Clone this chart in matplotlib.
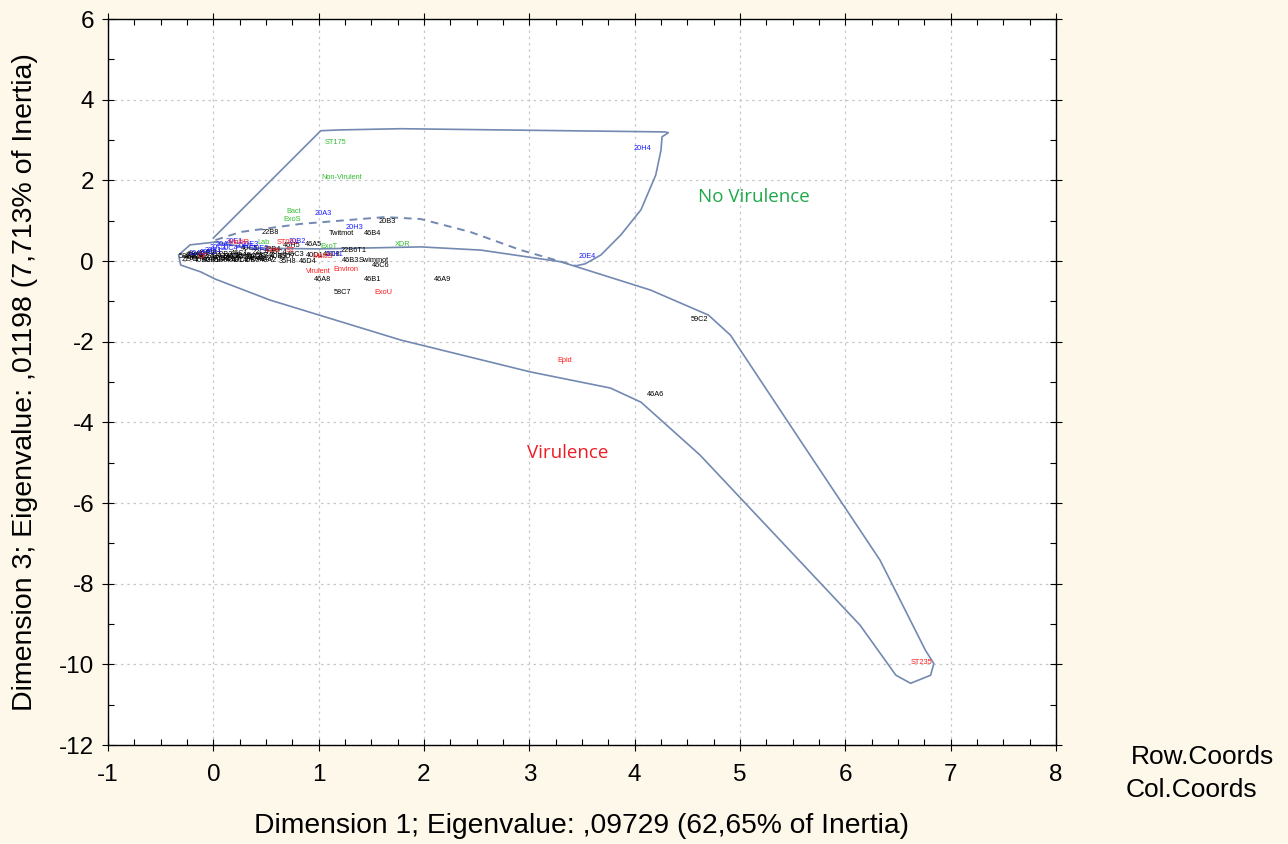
import matplotlib
matplotlib.use("Agg")
import matplotlib.pyplot as plt
from matplotlib.ticker import MultipleLocator

plt.rcParams["axes.unicode_minus"] = False

# ---------------- data ----------------
x_ticks = [-1, 0, 1, 2, 3, 4, 5, 6, 7, 8]
y_ticks = [-12, -10, -8, -6, -4, -2, 0, 2, 4, 6]

# isolates (black)
black_labels = ["22B8", "20B3", "Twitmot", "46B4", "46A5", "22B6T1", "46A9", "46B1",
                "58C7", "46A8", "46C6", "46B3", "Swimmot", "59C2", "46A6", "35H8", "46D4",
                "46C8", "40A2", "46B5", "46B2", "46B7", "40A1", "22A5", "40C3", "46A3",
                "40B6", "22B3", "46C1", "22C4", "40B9", "46C3", "40D1", "58A2", "46A1",
                "40C5", "22B4", "46H5", "40B2", "46D2", "22C1", "40A7", "58B1", "46C4",
                "22A1", "22A3", "40B1", "40B4", "46D1", "58A5", "58C1", "22C6", "40D3",
                "46B6", "22A7", "40C8", "58B4", "46D7"]
black_x = [0.54, 1.65, 1.22, 1.51, 0.95, 1.33, 2.18, 1.51,
           1.23, 1.04, 1.59, 1.30, 1.52, 4.62, 4.20, 0.70, 0.90,
           1.12, 0.52, 0.36, -0.20, -0.05, 0.05, 0.17, 0.30, 0.42,
           0.50, 0.10, 0.25, 0.45, 0.62, 0.78, 0.96, -0.16, 0.00,
           0.34, 0.56, 0.74, -0.10, 0.20, 0.12, 0.38, -0.25, 0.62,
           -0.22, -0.12, -0.02, 0.08, 0.20, 0.28, 0.40, -0.18, -0.06,
           0.06, 0.16, 0.26, 0.48, 0.70]
black_y = [0.70, 0.97, 0.68, 0.67, 0.42, 0.27, -0.45, -0.47,
           -0.77, -0.45, -0.12, 0.00, 0.00, -1.46, -3.30, -0.02, -0.02,
           0.15, 0.00, 0.02, 0.08, 0.05, 0.10, 0.05, 0.08, 0.03,
           0.06, 0.16, 0.18, 0.20, 0.12, 0.15, 0.13, 0.15, 0.20,
           0.30, 0.28, 0.38, 0.00, 0.10, 0.04, 0.12, 0.10, 0.22,
           0.04, 0.12, 0.02, 0.06, 0.00, 0.14, 0.08, 0.14, 0.18,
           0.00, 0.12, 0.00, 0.14, 0.10]

# blue labels
blue_labels = ["20A3", "20H3", "20H4", "20E4", "20B1", "20A1", "20C4", "20H2",
               "20E2", "20A2", "20E1", "20H1", "20C1", "20B2", "20C3", "20E3"]
blue_x = [1.04, 1.34, 4.07, 3.55, 0.00, -0.15, 0.15, 0.30,
          0.45, 0.10, 0.20, 1.15, 0.05, 0.80, -0.05, 0.35]
blue_y = [1.17, 0.82, 2.78, 0.12, 0.25, 0.18, 0.30, 0.35,
          0.30, 0.40, 0.48, 0.15, 0.33, 0.48, 0.22, 0.40]

# red labels
red_labels = ["ExoU", "Virulent", "Environ", "Epid", "ST235", "CF", "MultiR",
              "ST001", "Cefe", "ST", "MultiS"]
red_x = [1.61, 1.00, 1.26, 3.34, 6.72, -0.10, 0.24, 0.70, 0.57, 0.73, 1.04]
red_y = [-0.77, -0.27, -0.20, -2.46, -9.95, 0.10, 0.47, 0.47, 0.25, 0.25, 0.10]

# green labels
green_labels = ["ST175", "Non-Virulent", "Bact", "ExoS", "XDR", "ExoT", "Lab"]
green_x = [1.16, 1.22, 0.76, 0.75, 1.80, 1.10, 0.48]
green_y = [2.95, 2.06, 1.22, 1.04, 0.40, 0.35, 0.45]

# hull outlines (data coordinates)
vir_hull_x = [0.02, -0.22, -0.33, -0.31, -0.12, 0.02, 0.54, 1.78, 3.01, 3.77, 4.06,
              4.62, 5.38, 6.14, 6.48, 6.62, 6.81, 6.84, 6.76, 6.33, 5.57, 4.91, 4.70,
              4.15, 3.30, 2.54, 1.97, 1.02, 0.35, 0.02]
vir_hull_y = [0.47, 0.40, 0.15, -0.10, -0.27, -0.45, -0.97, -1.96, -2.75, -3.15, -3.50,
              -4.81, -6.92, -9.03, -10.27, -10.47, -10.27, -9.98, -9.65, -7.42, -4.44, -1.84, -1.34,
              -0.72, -0.02, 0.27, 0.35, 0.30, 0.32, 0.47]

nov_solid_x = [0.00, 1.02, 1.20, 1.78, 4.29, 4.32, 4.26, 4.25, 4.20, 4.06, 3.87, 3.68, 3.53, 3.44]
nov_solid_y = [0.57, 3.23, 3.25, 3.28, 3.20, 3.18, 3.08, 2.75, 2.13, 1.27, 0.65, 0.15, -0.07, -0.12]

nov_dash_x = [0.02, 0.26, 0.83, 1.63, 1.97, 2.44, 2.92, 3.44]
nov_dash_y = [0.52, 0.72, 0.92, 1.09, 1.04, 0.72, 0.27, -0.12]

# ---------------- figure ----------------
BG = "#FEF8EB"
FONT = "Liberation Sans"
fig = plt.figure(figsize=(12.88, 8.44), dpi=100, facecolor=BG)
ax = fig.add_axes([108 / 1288, 1 - 745 / 844, (1056 - 108) / 1288, (745 - 19) / 844])
ax.set_facecolor("white")

hull_color = "#7389b1"
ax.plot(vir_hull_x, vir_hull_y, color=hull_color, lw=1.2, zorder=2)
ax.plot(nov_solid_x, nov_solid_y, color=hull_color, lw=1.2, zorder=2)
ax.plot(nov_dash_x, nov_dash_y, color=hull_color, lw=1.4, ls=(0, (4, 3)), zorder=2)

lab_font = dict(fontsize=5.3, family=FONT, ha="center", va="center", zorder=3)
for labs, xs, ys, col in [(black_labels, black_x, black_y, "black"),
                          (blue_labels, blue_x, blue_y, "#1a1aff"),
                          (red_labels, red_x, red_y, "#ff1a1a"),
                          (green_labels, green_x, green_y, "#33bb33")]:
    for t, x, y in zip(labs, xs, ys):
        ax.text(x, y, t, color=col, **lab_font)

ax.text(5.13, 1.59, "No Virulence", color="#1fa84a", fontsize=13.5, family="Open Sans",
        ha="center", va="center")
ax.text(3.36, -4.76, "Virulence", color="#ee1c24", fontsize=13.5, family="Open Sans",
        ha="center", va="center")

ax.set_xlim(-1, 8)
ax.set_ylim(-12, 6)
ax.set_xticks(x_ticks)
ax.set_yticks(y_ticks)
ax.xaxis.set_minor_locator(MultipleLocator(0.25))
ax.yaxis.set_minor_locator(MultipleLocator(1))
ax.grid(True, which="major", color="#c8c8c8", ls=(0, (2, 3)), lw=0.9)
ax.set_axisbelow(True)

for sp in ax.spines.values():
    sp.set_color("black")
    sp.set_linewidth(1.0)

ax.tick_params(which="major", direction="inout", length=8, width=0.8,
               top=True, right=True, labelsize=17.5)
ax.tick_params(axis="x", which="major", pad=10)
ax.tick_params(axis="y", which="major", pad=6)
ax.tick_params(which="minor", direction="in", length=4, width=0.8, top=True, right=True)
for lab in ax.get_xticklabels() + ax.get_yticklabels():
    lab.set_family(FONT)

ax.set_xlabel("Dimension 1; Eigenvalue: ,09729 (62,65% of Inertia)",
              fontsize=20.3, family=FONT, va="center")
ax.set_ylabel("Dimension 3; Eigenvalue: ,01198 (7,713% of Inertia)",
              fontsize=20.5, family=FONT, va="center")
ax.xaxis.set_label_coords(0.5, -(826 - 745) / 726)
ax.yaxis.set_label_coords(-(108 - 25) / 948, 0.5)

fig.text(1131 / 1288, 1 - 757 / 844, "Row.Coords", fontsize=19, family=FONT,
         ha="left", va="center")
fig.text(1126 / 1288, 1 - 790 / 844, "Col.Coords", fontsize=19, family=FONT,
         ha="left", va="center")

fig.savefig("out.png", dpi=100, facecolor=BG)
